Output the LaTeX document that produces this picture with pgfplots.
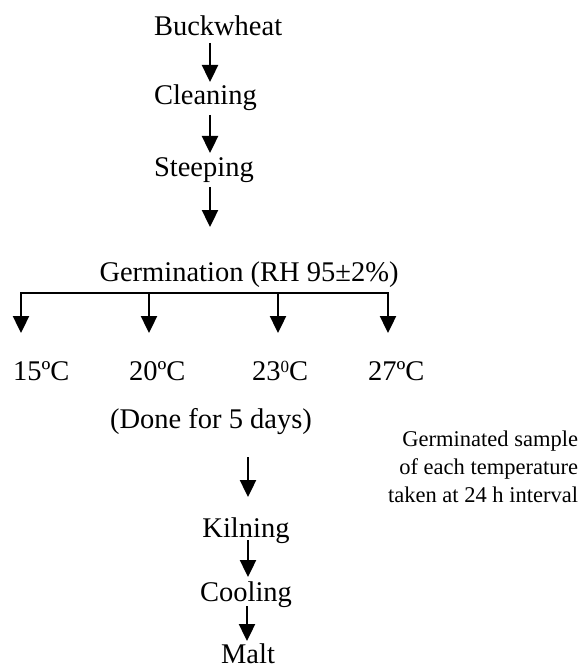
\documentclass[border=0pt]{standalone}
\usepackage{fontspec}
\setmainfont{Liberation Serif}
\usepackage{pgfplots}
\pgfplotsset{compat=1.18}
\usetikzlibrary{arrows.meta}
\begin{document}
\begin{tikzpicture}
\begin{axis}[
  width=585pt, height=668pt, scale only axis,
  xmin=0, xmax=585, ymin=0, ymax=668, y dir=reverse,
  hide axis, clip=false,
  every axis plot/.append style={line width=2.4pt, black},
  arr/.style={-{Triangle[width=16pt,length=17pt]}},
  nodes={font=\fontsize{28.5}{30}\selectfont, inner sep=0pt, outer sep=0pt},
]
\path (axis cs:0,0) rectangle (axis cs:585,668);
% vertical arrows of the main line
\addplot[arr] coordinates {(210,43) (210,82)};
\addplot[arr] coordinates {(210,115) (210,153)};
\addplot[arr] coordinates {(210,187) (210,227)};
% branching bar
\addplot[line width=2.4pt] coordinates {(20,293) (389,293)};
\addplot[arr] coordinates {(21,292) (21,333)};
\addplot[arr] coordinates {(149,292) (149,333)};
\addplot[arr] coordinates {(278,292) (278,333)};
\addplot[arr] coordinates {(388,292) (388,333)};
% lower arrows
\addplot[arr] coordinates {(248,457) (248,497)};
\addplot[arr] coordinates {(248,540) (248,577)};
\addplot[arr] coordinates {(247,606) (247,641)};
% texts
\node[anchor=base west] at (axis cs:154,36) {Buckwheat};
\node[anchor=base west] at (axis cs:154,105) {Cleaning};
\node[anchor=base west] at (axis cs:154,177) {Steeping};
\node[anchor=base] at (axis cs:249,281) {Germination (RH 95±2\%)};
\node[anchor=base west] at (axis cs:13,380) {15ºC};
\node[anchor=base west] at (axis cs:129,380) {20ºC};
\node[anchor=base west] at (axis cs:252,380) {23\raisebox{8pt}{\fontsize{17}{17}\selectfont 0}C};
\node[anchor=base west] at (axis cs:368,380) {27ºC};
\node[anchor=base] at (axis cs:211,428) {(Done for 5 days)};
\node[anchor=base east, font=\fontsize{22.5}{26}\selectfont] at (axis cs:578,446) {Germinated sample};
\node[anchor=base east, font=\fontsize{22.5}{26}\selectfont] at (axis cs:578,474) {of each temperature};
\node[anchor=base east, font=\fontsize{22.5}{26}\selectfont] at (axis cs:578,502) {taken at 24 h interval};
\node[anchor=base] at (axis cs:246,537) {Kilning};
\node[anchor=base] at (axis cs:246,601) {Cooling};
\node[anchor=base] at (axis cs:248,663) {Malt};
\end{axis}
\end{tikzpicture}
\end{document}
